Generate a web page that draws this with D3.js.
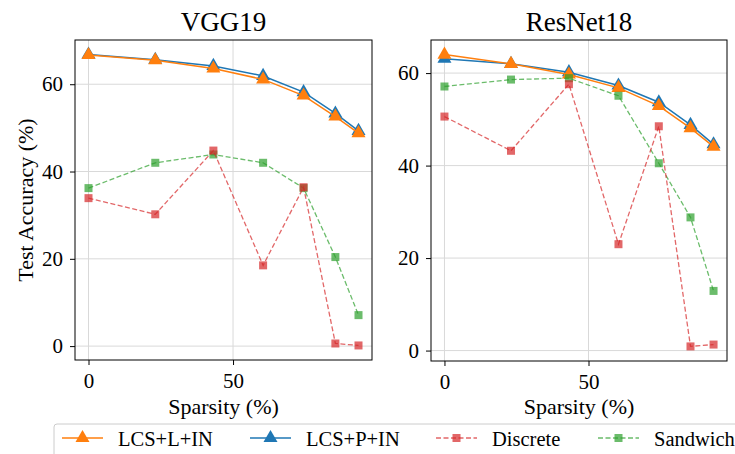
<!DOCTYPE html>
<html>
<head>
<meta charset="utf-8">
<script src="https://cdn.jsdelivr.net/npm/d3@7"></script>
<style>
  body { margin: 0; background: #fff; }
  svg { font-family: "Liberation Serif", "DejaVu Serif", serif; }
</style>
</head>
<body>
<script>
// sparsity levels (%)
const sparsity = [0, 23.1, 43.2, 60.4, 74.4, 85.4, 93.4];

// VGG19
const vggLcsL = [66.7, 65.5, 63.6, 61.1, 57.4, 52.6, 48.8];
const vggLcsP = [66.8, 65.6, 64.2, 61.9, 58.2, 53.3, 49.3];
const vggDiscrete = [33.9, 30.2, 44.8, 18.5, 36.4, 0.6, 0.15];
const vggSandwich = [36.2, 42.0, 43.9, 42.0, 36.2, 20.4, 7.1];

// ResNet18
const resLcsL = [64.0, 62.0, 59.7, 56.8, 52.9, 48.1, 44.1];
const resLcsP = [63.1, 62.0, 60.2, 57.3, 53.7, 48.8, 44.6];
const resDiscrete = [50.6, 43.2, 57.6, 23.0, 48.5, 0.9, 1.3];
const resSandwich = [57.1, 58.6, 58.9, 55.1, 40.5, 28.8, 12.9];

const titles = ["VGG19", "ResNet18"];
const xTicks = [0, 50];
const yTicks = [0, 20, 40, 60];

const seriesNames = ["LCS+L+IN", "LCS+P+IN", "Discrete", "Sandwich"];
const colors = {
  "LCS+L+IN": "#ff7f0e",
  "LCS+P+IN": "#1f77b4",
  "Discrete": "#d62728",
  "Sandwich": "#2ca02c"
};

const panels = [
  { title: titles[0], left: 75, right: 372, top: 40, bottom: 360,
    data: { "LCS+L+IN": vggLcsL, "LCS+P+IN": vggLcsP, "Discrete": vggDiscrete, "Sandwich": vggSandwich } },
  { title: titles[1], left: 431, right: 727, top: 40, bottom: 361,
    data: { "LCS+L+IN": resLcsL, "LCS+P+IN": resLcsP, "Discrete": resDiscrete, "Sandwich": resSandwich } }
];

const svg = d3.select("body").append("svg")
  .attr("width", 735)
  .attr("height", 454);

// draw order: blue, orange, green, red
const drawOrder = ["LCS+P+IN", "LCS+L+IN", "Sandwich", "Discrete"];
const triangle = d3.symbol().type(d3.symbolTriangle).size(85);

panels.forEach(p => {
  const allVals = Object.values(p.data).flat();
  const yMin = d3.min(allVals), yMax = d3.max(allVals);
  const yPad = (yMax - yMin) * 0.05;
  const xMax = d3.max(sparsity), xPad = xMax * 0.05;

  const x = d3.scaleLinear().domain([-xPad, xMax + xPad]).range([p.left, p.right]);
  const y = d3.scaleLinear().domain([yMin - yPad, yMax + yPad]).range([p.bottom, p.top]);

  const g = svg.append("g");

  // grid
  g.selectAll(".gx").data(xTicks).enter().append("line")
    .attr("x1", d => x(d)).attr("x2", d => x(d))
    .attr("y1", p.top).attr("y2", p.bottom)
    .attr("stroke", "#d9d9d9").attr("stroke-width", 1);
  g.selectAll(".gy").data(yTicks).enter().append("line")
    .attr("x1", p.left).attr("x2", p.right)
    .attr("y1", d => y(d)).attr("y2", d => y(d))
    .attr("stroke", "#d9d9d9").attr("stroke-width", 1);

  // axes
  g.append("g")
    .attr("transform", `translate(0,${p.bottom})`)
    .call(d3.axisBottom(x).tickValues(xTicks).tickSize(5).tickPadding(8))
    .call(a => a.select(".domain").remove())
    .call(a => a.selectAll("text").attr("font-size", 21).attr("font-family", "Liberation Serif").attr("fill", "#000"));
  g.append("g")
    .attr("transform", `translate(${p.left},0)`)
    .call(d3.axisLeft(y).tickValues(yTicks).tickSize(5).tickPadding(7))
    .call(a => a.select(".domain").remove())
    .call(a => a.selectAll("text").attr("font-size", 21).attr("font-family", "Liberation Serif").attr("fill", "#000"));

  drawOrder.forEach(name => {
    const vals = p.data[name];
    const pts = sparsity.map((s, i) => [x(s), y(vals[i])]);
    const dashed = name === "Discrete" || name === "Sandwich";
    g.append("path")
      .attr("d", d3.line()(pts))
      .attr("fill", "none")
      .attr("stroke", colors[name])
      .attr("stroke-width", dashed ? 1.3 : 1.5)
      .attr("stroke-dasharray", dashed ? "5,2.5" : null)
      .attr("opacity", dashed ? 0.7 : 1);
    if (dashed) {
      g.selectAll(null).data(pts).enter().append("rect")
        .attr("x", d => d[0] - 4).attr("y", d => d[1] - 4)
        .attr("width", 8).attr("height", 8)
        .attr("fill", colors[name]).attr("opacity", 0.7);
    } else {
      g.selectAll(null).data(pts).enter().append("path")
        .attr("d", triangle)
        .attr("transform", d => `translate(${d[0]},${d[1]})`)
        .attr("fill", colors[name]);
    }
  });

  // frame
  g.append("rect")
    .attr("x", p.left).attr("y", p.top)
    .attr("width", p.right - p.left).attr("height", p.bottom - p.top)
    .attr("fill", "none").attr("stroke", "#000").attr("stroke-width", 1);

  // title
  svg.append("text")
    .attr("x", (p.left + p.right) / 2).attr("y", 31)
    .attr("text-anchor", "middle").attr("font-size", 27)
    .text(p.title);

  // x label
  svg.append("text")
    .attr("x", (p.left + p.right) / 2).attr("y", 414)
    .attr("text-anchor", "middle").attr("font-size", 22)
    .text("Sparsity (%)");
});

// y label
svg.append("text")
  .attr("transform", "translate(33,200) rotate(-90)")
  .attr("text-anchor", "middle").attr("font-size", 22)
  .text("Test Accuracy (%)");

// legend
const legend = svg.append("g");
legend.append("rect")
  .attr("x", 54).attr("y", 424).attr("width", 720).attr("height", 50)
  .attr("rx", 3)
  .attr("fill", "#fff").attr("stroke", "#cccccc");

const legendX = [62, 250, 436, 598];
seriesNames.forEach((name, i) => {
  const lx = legendX[i], ly = 438;
  const dashed = name === "Discrete" || name === "Sandwich";
  legend.append("line")
    .attr("x1", lx).attr("x2", lx + 41).attr("y1", ly).attr("y2", ly)
    .attr("stroke", colors[name])
    .attr("stroke-width", dashed ? 1.3 : 1.5)
    .attr("stroke-dasharray", dashed ? "5,2.5" : null)
    .attr("opacity", dashed ? 0.7 : 1);
  if (dashed) {
    legend.append("rect")
      .attr("x", lx + 20.5 - 4).attr("y", ly - 4).attr("width", 8).attr("height", 8)
      .attr("fill", colors[name]).attr("opacity", 0.7);
  } else {
    legend.append("path")
      .attr("d", triangle)
      .attr("transform", `translate(${lx + 20.5},${ly})`)
      .attr("fill", colors[name]);
  }
  legend.append("text")
    .attr("x", lx + 56).attr("y", ly + 8)
    .attr("font-size", 20.5)
    .text(name);
});
</script>
</body>
</html>
